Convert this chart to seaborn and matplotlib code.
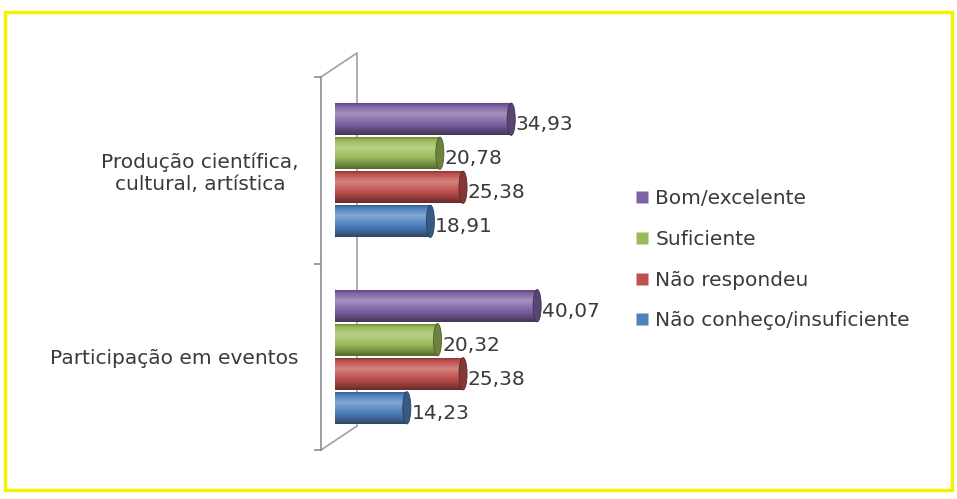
import numpy as np
import pandas as pd
import matplotlib
matplotlib.use("Agg")
import matplotlib.pyplot as plt
import matplotlib.colors as mcolors
from matplotlib.patches import Ellipse, Rectangle
from matplotlib.lines import Line2D
import seaborn as sns

# ---- data ----
categories = ["Produção científica,\ncultural, artística", "Participação em eventos"]
series = ["Bom/excelente", "Suficiente", "Não respondeu", "Não conheço/insuficiente"]
bom_excelente = [34.93, 40.07]
suficiente = [20.78, 20.32]
nao_respondeu = [25.38, 25.38]
nao_conheco = [18.91, 14.23]
colors = ["#7E62A4", "#9BBB59", "#C0504D", "#4F81BD"]

values = [bom_excelente, suficiente, nao_respondeu, nao_conheco]
df = pd.DataFrame({
    "categoria": [c for s in series for c in categories],
    "serie": [s for s in series for _ in categories],
    "valor": [v for vals in values for v in vals],
})

sns.set_theme(style="white")
plt.rcParams["font.family"] = ["DejaVu Sans"]

W, H = 957, 499
fig = plt.figure(figsize=(W / 100, H / 100), dpi=100)
fig.patch.set_facecolor("white")

def fx(px):
    return px / W

def fy(py):
    return 1 - py / H

# axes placement (pixels)
ax_left, ax_right = 335, 562
ax_top, ax_bot = 77, 450
ax = fig.add_axes([fx(ax_left), fy(ax_bot), fx(ax_right - ax_left), (ax_bot - ax_top) / H])
ax.set_facecolor("none")

sns.barplot(data=df, y="categoria", x="valor", hue="serie", order=categories,
            hue_order=series, palette=colors, orient="h", width=0.73, gap=0.05,
            legend=False, ax=ax, saturation=1, edgecolor="none")

ax.set_xlim(0, 45)
ax.set_ylim(1.5, -0.5)

# cylinder shading
def shade(c, f):
    r, g, b = mcolors.to_rgb(c)
    if f >= 0:
        return (r + (1 - r) * f, g + (1 - g) * f, b + (1 - b) * f)
    return (r * (1 + f), g * (1 + f), b * (1 + f))

t = np.linspace(0, 1, 64)
prof = np.interp(t, [0, 0.12, 0.35, 0.7, 1.0], [-0.35, 0.0, 0.3, -0.05, -0.45])

for cont, col in zip(ax.containers, colors):
    for patch in cont:
        x0, y0 = patch.get_x(), patch.get_y()
        w, h = patch.get_width(), patch.get_height()
        grad = np.array([[shade(col, f)] for f in prof])
        im = ax.imshow(grad, extent=[x0, x0 + w, y0 + h, y0], aspect="auto",
                       zorder=patch.get_zorder() + 0.1, interpolation="bilinear")
        im.set_clip_path(patch)
        # left rounded end
        e_left = Ellipse((x0, y0 + h / 2), 1.6, h, facecolor=shade(col, -0.1),
                         edgecolor="none", zorder=patch.get_zorder() + 0.05)
        ax.add_patch(e_left)
        # right cap
        e = Ellipse((x0 + w, y0 + h / 2), 1.6, h, facecolor=shade(col, -0.3),
                    edgecolor=shade(col, -0.5), linewidth=0.6,
                    zorder=patch.get_zorder() + 0.2)
        ax.add_patch(e)
        lab = f"{w:.2f}".replace(".", ",")
        ax.text(x0 + w + 0.9, y0 + h / 2 + 0.03, lab, va="center", ha="left",
                fontsize=14.5, color="#3a3a3a", zorder=5)

ax.set_xlim(0, 45)
ax.set_ylim(1.5, -0.5)

# spines / ticks
for s in ["top", "right", "bottom"]:
    ax.spines[s].set_visible(False)
ax.spines["left"].set_position(("outward", 14 * 72 / 100))
ax.spines["left"].set_color("#8c8c8c")
ax.spines["left"].set_linewidth(1.2)
ax.set_xticks([])
ax.set_xlabel("")
ax.set_ylabel("")
ax.set_yticks([0, 1])
ax.set_yticklabels(categories)
ax.set_yticks([-0.5, 0.5, 1.5], minor=True)
ax.tick_params(axis="y", which="major", length=0, pad=16, labelsize=14.5,
               labelcolor="#3a3a3a")
ax.tick_params(axis="y", which="minor", length=5, width=1.2, color="#8c8c8c",
               direction="out", left=True)
for lbl in ax.get_yticklabels():
    lbl.set_multialignment("center")

# 3D back wall lines
wall_x0, wall_x1 = 321, 357
ax.plot([fx(wall_x0), fx(wall_x1), fx(wall_x1), fx(wall_x0)],
        [fy(ax_top), fy(ax_top - 24), fy(ax_bot - 24), fy(ax_bot)],
        transform=fig.transFigure, color="#a0a0a0", linewidth=1.2,
        clip_on=False, zorder=0.5)

# legend
handles = [Line2D([0], [0], marker="s", linestyle="none", markersize=8,
                  markerfacecolor=c, markeredgecolor="none") for c in colors]
fig.legend(handles, series, loc="upper left", bbox_to_anchor=(fx(617), fy(171)),
           frameon=False, fontsize=14.5, handletextpad=0.3, labelspacing=1.08,
           handlelength=0.7, labelcolor="#3a3a3a")

# yellow border
fig.add_artist(Rectangle((fx(5), fy(490)), fx(947), (490 - 12) / H,
                         transform=fig.transFigure, fill=False,
                         edgecolor="#F2F200", linewidth=2.5))

fig.savefig("out.png", dpi=100)
